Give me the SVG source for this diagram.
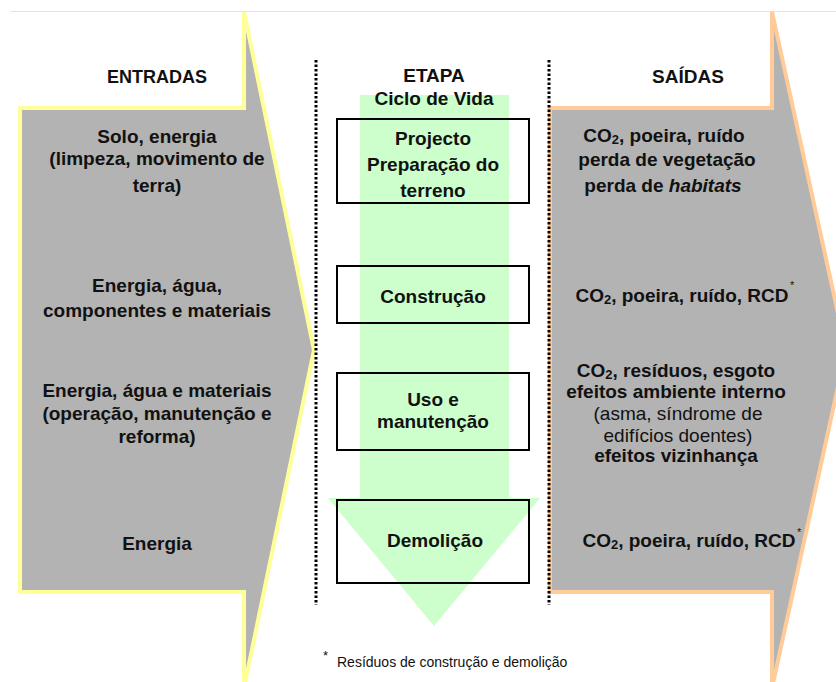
<svg xmlns="http://www.w3.org/2000/svg" width="836" height="682" viewBox="0 0 836 682">
<style>
.t{font-family:"Liberation Sans",Arial,sans-serif;font-size:19px;font-weight:bold;fill:#111;text-anchor:middle}
.n{font-weight:normal}
.sub{font-size:13px}
.big{fill:#B3B3B3;stroke-width:4;stroke-linejoin:miter}
.box{fill:none;stroke:#000;stroke-width:2}
.dot{stroke:#000;stroke-width:3;stroke-dasharray:2.5 2;fill:none}
.ast{font-family:"Liberation Sans",Arial,sans-serif;font-size:11px;fill:#111}
.foot{font-family:"Liberation Sans",Arial,sans-serif;font-size:14px;fill:#111}
</style>
<rect width="836" height="682" fill="#fff"/>
<line x1="10" y1="11.5" x2="836" y2="11.5" stroke="#e3e3e3" stroke-width="1"/>

<g id="entradas">
<path class="big" stroke="#FFFF99" d="M20,108 H244 V12 L314,350 L244,688 V592 H20 Z"/>
<text class="t" x="157" y="83" style="font-size:18px">ENTRADAS</text>
<text class="t" x="157" y="143">Solo, energia</text>
<text class="t" x="157" y="165">(limpeza, movimento de</text>
<text class="t" x="157" y="192">terra)</text>
<text class="t" x="157" y="292">Energia, água,</text>
<text class="t" x="157" y="317">componentes e materiais</text>
<text class="t" x="157" y="397">Energia, água e materiais</text>
<text class="t" x="157" y="420">(operação, manutenção e</text>
<text class="t" x="157" y="443">reforma)</text>
<text class="t" x="157" y="550">Energia</text>
</g>

<g id="saidas">
<path class="big" stroke="#FFCC99" d="M550,108 H772 V12 L846,350 L772,688 V592 H550 Z"/>
<text class="t" x="688" y="83">SAÍDAS</text>
<text class="t" x="664" y="142">CO<tspan class="sub" dy="2">2</tspan><tspan dy="-2">, poeira, ruído</tspan></text>
<text class="t" x="667" y="166">perda de vegetação</text>
<text class="t" x="663" y="192">perda de <tspan font-style="italic">habitats</tspan></text>
<text class="t" x="682" y="302">CO<tspan class="sub" dy="2">2</tspan><tspan dy="-2">, poeira, ruído, RCD</tspan></text>
<text class="ast" x="790" y="289">*</text>
<text class="t" x="676" y="377">CO<tspan class="sub" dy="2">2</tspan><tspan dy="-2">, resíduos, esgoto</tspan></text>
<text class="t" x="676" y="398">efeitos ambiente interno</text>
<text class="t n" x="678" y="420">(asma, síndrome de</text>
<text class="t n" x="678" y="442">edifícios doentes)</text>
<text class="t" x="676" y="462">efeitos vizinhança</text>
<text class="t" x="689" y="547">CO<tspan class="sub" dy="2">2</tspan><tspan dy="-2">, poeira, ruído, RCD</tspan></text>
<text class="ast" x="797" y="536">*</text>
</g>

<g id="ciclo">
<path fill="#CCFFCC" d="M360,95 H509 V498 H540 L434,626 L328,498 H360 Z"/>
<text class="t" x="434" y="82">ETAPA</text>
<text class="t" x="434" y="105">Ciclo de Vida</text>
</g>

<g id="projecto">
<rect class="box" x="337" y="119" width="192" height="84"/>
<text class="t" x="433" y="145">Projecto</text>
<text class="t" x="433" y="171">Preparação do</text>
<text class="t" x="433" y="197">terreno</text>
</g>
<g id="construcao">
<rect class="box" x="337" y="266" width="192" height="57"/>
<text class="t" x="433" y="303">Construção</text>
</g>
<g id="uso">
<rect class="box" x="337" y="373" width="192" height="77"/>
<text class="t" x="433" y="406">Uso e</text>
<text class="t" x="433" y="428">manutenção</text>
</g>
<g id="demolicao">
<rect class="box" x="337" y="500" width="192" height="83"/>
<text class="t" x="435" y="547">Demolição</text>
</g>

<g id="connectors">
<line class="dot" x1="316" y1="60" x2="316" y2="605"/>
<line class="dot" x1="549" y1="60" x2="549" y2="605"/>
</g>

<g id="nota">
<text class="ast" x="323" y="660" style="font-size:13px">*</text>
<text class="foot" x="337" y="667">Resíduos de construção e demolição</text>
</g>
</svg>
